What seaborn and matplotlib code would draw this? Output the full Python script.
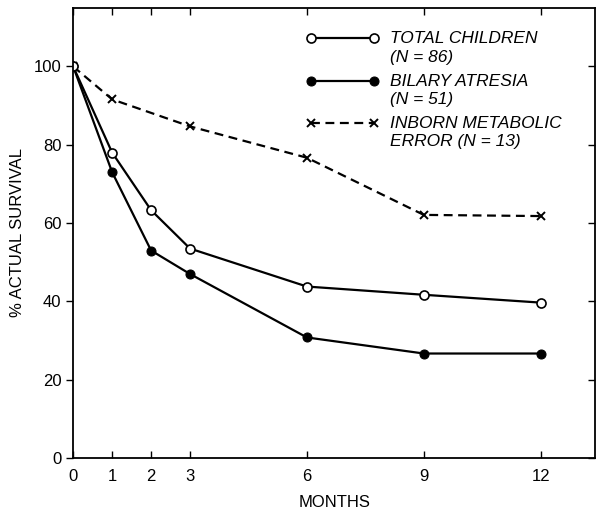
import matplotlib
matplotlib.use('Agg')
import matplotlib.pyplot as plt
import numpy as np
import pandas as pd
import seaborn as sns
from matplotlib.legend_handler import HandlerLine2D

# Survival data
months_total = [0, 1, 2, 3, 6, 9, 12]
total_children = [100, 78, 63.3, 53.5, 43.8, 41.7, 39.7]

months_biliary = [0, 1, 2, 3, 6, 9, 12]
biliary_atresia = [100, 73, 53, 47, 30.8, 26.7, 26.7]

months_inborn = [0, 1, 3, 6, 9, 12]
inborn_error = [100, 91.6, 84.7, 76.7, 62.1, 61.8]

labels = ['TOTAL CHILDREN\n(N = 86)', 'BILARY ATRESIA\n(N = 51)', 'INBORN METABOLIC\nERROR (N = 13)']
x_ticks = [0, 1, 2, 3, 6, 9, 12]
y_ticks = [0, 20, 40, 60, 80, 100]

sns.set_style('ticks')
plt.rcParams['font.family'] = ['Liberation Sans', 'DejaVu Sans']
plt.rcParams['text.color'] = 'black'
plt.rcParams['axes.labelcolor'] = 'black'

fig = plt.figure(figsize=(6, 5.17), dpi=100)
ax = fig.add_axes([0.122, 0.114, 0.870, 0.871])

# Draw lines (biliary under total at month 0)
sns.lineplot(x=months_inborn, y=inborn_error, ax=ax, color='black', lw=1.6,
             linestyle=(0, (4, 2.5)), marker='x', markersize=6, markeredgewidth=1.4,
             markeredgecolor='black', label=labels[2])
sns.lineplot(x=months_biliary, y=biliary_atresia, ax=ax, color='black', lw=1.6,
             marker='o', markersize=6.5, markerfacecolor='black', markeredgecolor='black',
             label=labels[1])
sns.lineplot(x=months_total, y=total_children, ax=ax, color='black', lw=1.6,
             marker='o', markersize=6.5, markerfacecolor='white', markeredgecolor='black',
             markeredgewidth=1.2, label=labels[0])

ax.set_xlim(0, 13.4)
ax.set_ylim(0, 115)
ax.set_xticks(x_ticks)
ax.set_yticks(y_ticks)
ax.tick_params(axis='x', direction='in', top=True, length=5, width=1, labelsize=12, pad=8, colors='black')
ax.tick_params(axis='y', direction='out', length=5, width=1, labelsize=12, colors='black')
ax.tick_params(axis='y', which='both', right=True)
for t in ax.yaxis.get_major_ticks():
    t.tick2line.set_marker(matplotlib.lines.TICKLEFT)
for s in ax.spines.values():
    s.set_visible(True)
    s.set_linewidth(1.3)
    s.set_color('black')

ax.set_xlabel('MONTHS', fontsize=12, labelpad=8)
ax.set_ylabel('% ACTUAL SURVIVAL', fontsize=12, labelpad=6)

leg_size = 12.5
leg_linespacing = 1.3


# legend handles sit level with the first line of each two-line label
def lift_handle(legline, orig):
    legline.update_from(orig)
    legline.set_ydata(np.asarray(legline.get_ydata()) + 7.0)


handles, labs = ax.get_legend_handles_labels()
order = [2, 1, 0]
leg = ax.legend([handles[i] for i in order], [labs[i] for i in order],
                loc='upper left', bbox_to_anchor=(0.429, 0.967), frameon=False,
                borderpad=0, numpoints=2, handlelength=4.2, handletextpad=0.65,
                labelspacing=0.5, prop={'style': 'italic', 'size': leg_size},
                handler_map={matplotlib.lines.Line2D: HandlerLine2D(update_func=lift_handle)})
for t in leg.get_texts():
    t.set_linespacing(leg_linespacing)
    t.set_color('black')

fig.savefig('out.png', dpi=100)
